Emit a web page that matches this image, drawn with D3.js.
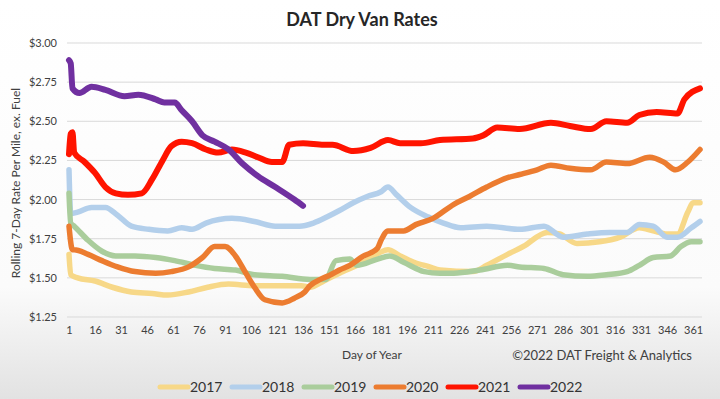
<!DOCTYPE html>
<html>
<head>
<meta charset="utf-8">
<script src="https://cdn.jsdelivr.net/npm/d3@7"></script>
<style>
  html, body { margin: 0; padding: 0; background: #fff; }
  svg { display: block; font-family: Lato, "Open Sans", sans-serif; }
</style>
</head>
<body>
<div id="chart"></div>
<script>
// day-of-year ticks and y ticks
const dayTicks = d3.range(1, 362, 15);
const rateTicks = [1.25, 1.5, 1.75, 2.0, 2.25, 2.5, 2.75, 3.0];

// series (day, rolling 7-day rate)
const days2017 = [1, 2, 6, 16, 26, 37, 49, 58, 70, 81, 93, 108, 124, 135, 140, 148, 157, 171, 180, 185, 192, 200, 209, 215, 234, 242, 254, 263, 277, 284, 294, 307, 319, 330, 338, 346, 352, 358, 361, 365];
const rates2017 = [1.65, 1.52, 1.50, 1.48, 1.44, 1.41, 1.40, 1.39, 1.41, 1.44, 1.46, 1.45, 1.45, 1.45, 1.44, 1.48, 1.53, 1.60, 1.66, 1.68, 1.64, 1.60, 1.57, 1.55, 1.54, 1.58, 1.65, 1.70, 1.79, 1.78, 1.72, 1.73, 1.76, 1.82, 1.80, 1.78, 1.78, 1.92, 1.98, 1.98];

const days2018 = [1, 2, 6, 14, 22, 29, 37, 47, 58, 66, 72, 80, 95, 108, 120, 134, 142, 150, 157, 165, 173, 181, 185, 190, 198, 208, 217, 227, 242, 261, 275, 286, 300, 313, 323, 330, 338, 346, 352, 360, 365];
const rates2018 = [2.19, 1.91, 1.92, 1.95, 1.95, 1.90, 1.83, 1.81, 1.80, 1.82, 1.81, 1.85, 1.88, 1.86, 1.83, 1.83, 1.85, 1.89, 1.93, 1.98, 2.02, 2.05, 2.08, 2.03, 1.95, 1.89, 1.85, 1.82, 1.83, 1.81, 1.83, 1.76, 1.78, 1.79, 1.79, 1.84, 1.83, 1.76, 1.76, 1.82, 1.86];

const days2019 = [1, 2, 4, 12, 20, 28, 39, 51, 62, 74, 85, 97, 108, 124, 140, 149, 155, 163, 167, 179, 186, 194, 206, 215, 223, 238, 254, 261, 275, 286, 300, 311, 323, 330, 338, 348, 354, 360, 365];
const rates2019 = [2.04, 1.85, 1.83, 1.74, 1.67, 1.64, 1.64, 1.63, 1.61, 1.58, 1.56, 1.55, 1.52, 1.51, 1.49, 1.49, 1.61, 1.62, 1.58, 1.62, 1.64, 1.60, 1.54, 1.53, 1.53, 1.55, 1.58, 1.57, 1.56, 1.52, 1.51, 1.52, 1.54, 1.58, 1.63, 1.64, 1.70, 1.73, 1.73];

const days2020 = [1, 3, 4, 12, 20, 29, 39, 51, 60, 70, 78, 85, 91, 97, 103, 108, 114, 124, 131, 137, 140, 146, 152, 157, 163, 171, 175, 179, 181, 185, 194, 201, 211, 223, 232, 242, 254, 261, 271, 279, 290, 302, 311, 323, 336, 344, 351, 358, 365];
const rates2020 = [1.83, 1.68, 1.68, 1.65, 1.61, 1.57, 1.54, 1.53, 1.54, 1.57, 1.63, 1.70, 1.70, 1.64, 1.53, 1.44, 1.36, 1.34, 1.37, 1.41, 1.45, 1.49, 1.52, 1.55, 1.58, 1.64, 1.66, 1.69, 1.74, 1.80, 1.80, 1.84, 1.88, 1.97, 2.02, 2.08, 2.14, 2.16, 2.19, 2.22, 2.20, 2.19, 2.24, 2.23, 2.27, 2.24, 2.19, 2.24, 2.32];

const days2021 = [1, 2, 3, 4, 10, 16, 22, 28, 35, 43, 49, 55, 60, 66, 72, 80, 87, 95, 103, 110, 118, 124, 128, 136, 148, 153, 165, 175, 185, 192, 204, 215, 234, 240, 248, 261, 279, 290, 302, 311, 323, 330, 340, 352, 356, 365];
const rates2021 = [2.29, 2.42, 2.43, 2.30, 2.24, 2.17, 2.08, 2.04, 2.03, 2.04, 2.13, 2.25, 2.34, 2.37, 2.36, 2.32, 2.30, 2.32, 2.30, 2.27, 2.24, 2.24, 2.35, 2.36, 2.35, 2.35, 2.31, 2.33, 2.38, 2.36, 2.36, 2.38, 2.39, 2.41, 2.46, 2.45, 2.49, 2.47, 2.45, 2.50, 2.49, 2.54, 2.56, 2.55, 2.64, 2.71];

const days2022 = [1, 2, 3, 7, 14, 22, 33, 41, 51, 56, 62, 66, 72, 78, 85, 93, 101, 110, 120, 131, 136];
const rates2022 = [2.89, 2.87, 2.71, 2.68, 2.72, 2.70, 2.66, 2.67, 2.64, 2.62, 2.62, 2.57, 2.50, 2.41, 2.37, 2.32, 2.23, 2.15, 2.08, 2.00, 1.96];

const years = ['2017', '2018', '2019', '2020', '2021', '2022'];
const colors = ['#f7d888', '#b3cfeb', '#aacd9c', '#ec7c30', '#ff1400', '#7030a0'];

const series = [
  [days2017, rates2017], [days2018, rates2018], [days2019, rates2019],
  [days2020, rates2020], [days2021, rates2021], [days2022, rates2022]
].map((s, i) => ({
  year: years[i],
  color: colors[i],
  points: s[0].map((d, j) => ({ day: d, rate: s[1][j] }))
}));

const width = 720, height = 399;

const svg = d3.select('#chart')
  .append('svg')
  .attr('width', width)
  .attr('height', height);

// faded video-frame background
const grad = svg.append('defs').append('linearGradient')
  .attr('id', 'bg').attr('x1', 0).attr('y1', 0).attr('x2', 0).attr('y2', 1);
grad.append('stop').attr('offset', '0%').attr('stop-color', '#ffffff');
grad.append('stop').attr('offset', '72%').attr('stop-color', '#fbfbfb');
grad.append('stop').attr('offset', '100%').attr('stop-color', '#e2e2e2');
svg.append('rect').attr('width', width).attr('height', height).attr('fill', 'url(#bg)');

const x = d3.scaleLinear().domain([1, 365]).range([69, 700]);
const y = d3.scaleLinear().domain([1.25, 3.0]).range([317, 43]);

// gridlines
svg.append('g')
  .selectAll('line')
  .data(rateTicks)
  .enter()
  .append('line')
  .attr('x1', 67)
  .attr('x2', 702)
  .attr('y1', d => y(d))
  .attr('y2', d => y(d))
  .attr('stroke', '#d9d9d9')
  .attr('stroke-width', 1);

// y axis labels
const yAxis = svg.append('g')
  .attr('transform', 'translate(61, 0)')
  .call(d3.axisLeft(y).tickValues(rateTicks).tickSize(0).tickPadding(4)
    .tickFormat(d => '$' + d3.format('.2f')(d)));
yAxis.select('.domain').remove();
yAxis.selectAll('text')
  .attr('fill', '#404040')
  .style('font-size', '11px')
  .style('font-family', 'Lato, sans-serif');

// x axis labels
const xAxis = svg.append('g')
  .attr('transform', 'translate(0, 326)')
  .call(d3.axisBottom(x).tickValues(dayTicks).tickSize(0).tickPadding(0)
    .tickFormat(d3.format('d')));
xAxis.select('.domain').remove();
xAxis.selectAll('text')
  .attr('fill', '#404040')
  .style('font-size', '11px')
  .style('font-family', 'Lato, sans-serif');

// lines
const line = d3.line()
  .x(d => x(d.day))
  .y(d => y(d.rate))
  .curve(d3.curveMonotoneX);

svg.append('g')
  .selectAll('path')
  .data(series)
  .enter()
  .append('path')
  .attr('fill', 'none')
  .attr('stroke', d => d.color)
  .attr('stroke-width', d => (d.year === '2021' || d.year === '2022') ? 6 : 5.5)
  .attr('stroke-linejoin', 'round')
  .attr('stroke-linecap', 'round')
  .attr('d', d => line(d.points));

// title
svg.append('text')
  .attr('x', 362)
  .attr('y', 26)
  .attr('text-anchor', 'middle')
  .attr('fill', '#262626')
  .style('font-size', '18px')
  .style('font-weight', 'bold')
  .text('DAT Dry Van Rates');

// axis titles
svg.append('text')
  .attr('transform', 'translate(20, 183) rotate(-90)')
  .attr('text-anchor', 'middle')
  .attr('fill', '#404040')
  .style('font-size', '12px')
  .text('Rolling 7-Day Rate Per Mile, ex. Fuel');

svg.append('text')
  .attr('x', 372)
  .attr('y', 359)
  .attr('text-anchor', 'middle')
  .attr('fill', '#404040')
  .style('font-size', '12px')
  .text('Day of Year');

svg.append('text')
  .attr('x', 692)
  .attr('y', 360)
  .attr('text-anchor', 'end')
  .attr('fill', '#404040')
  .style('font-size', '13px')
  .text('\u00A92022 DAT Freight & Analytics');

// legend
const legend = svg.append('g')
  .selectAll('.legend')
  .data(series)
  .enter()
  .append('g')
  .attr('class', 'legend')
  .attr('transform', (d, i) => `translate(${160 + i * 72}, 387)`);

legend.append('line')
  .attr('x1', 0)
  .attr('x2', 28)
  .attr('stroke', d => d.color)
  .attr('stroke-width', 5)
  .attr('stroke-linecap', 'round');

legend.append('text')
  .attr('x', 30)
  .attr('y', 5)
  .attr('fill', '#333')
  .style('font-size', '14px')
  .text(d => d.year);
</script>
</body>
</html>
